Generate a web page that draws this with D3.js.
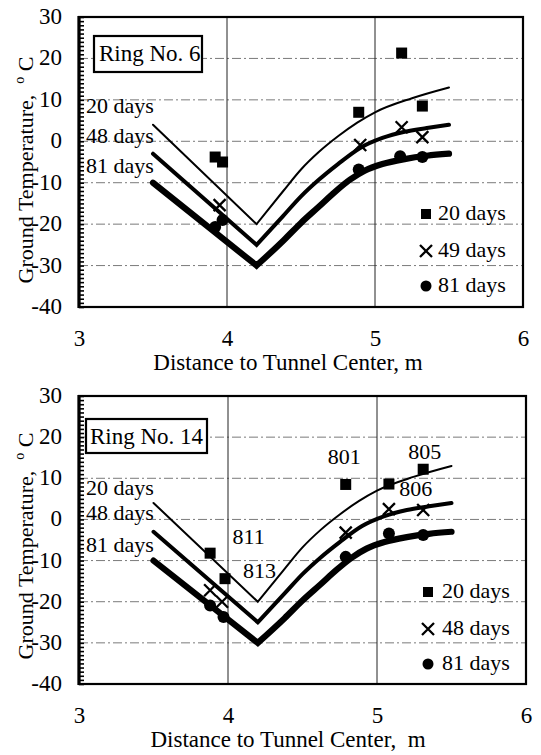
<!DOCTYPE html>
<html><head><meta charset="utf-8">
<script src="https://cdn.jsdelivr.net/npm/d3@7"></script>
<style>
body{margin:0;background:#fff}
svg text{fill:#000}
</style></head>
<body><svg id="c" width="541" height="755" font-family="Liberation Serif, DejaVu Serif, serif"></svg>
<script>
// ---------- data ----------
const xTicks = [3, 4, 5, 6];
const yTicks = [30, 20, 10, 0, -10, -20, -30, -40];
const curveLabels = ["20 days", "48 days", "81 days"];

// model curves: straight left leg, then curved right leg starting at the vertex
const leg20X = [3.5, 4.2], leg20Y = [4, -20];
const leg48X = [3.5, 4.2], leg48Y = [-3, -25];
const leg81X = [3.5, 4.2], leg81Y = [-10, -30];
const rise20X = [4.2, 4.38, 4.5, 4.62, 4.75, 4.88, 5.0, 5.25, 5.5];
const rise20Y = [-20, -12, -6.8, -2.6, 1.2, 4.5, 7.0, 10.4, 13];
const rise48X = [4.2, 4.38, 4.5, 4.62, 4.75, 4.9, 5.05, 5.2, 5.35, 5.5];
const rise48Y = [-25, -18, -13.3, -9.3, -5.5, -1.6, 0.8, 2.3, 3.2, 4];
const rise81X = [4.2, 4.38, 4.5, 4.62, 4.73, 4.83, 4.93, 5.05, 5.2, 5.35, 5.5];
const rise81Y = [-30, -24, -19.7, -15.8, -12.2, -9.3, -7.1, -5.5, -4.3, -3.5, -3];

// Ring No. 6 measurements
const ring6SqX = [3.92, 3.97, 4.89, 5.18, 5.32];
const ring6SqY = [-3.8, -5.0, 7.0, 21.3, 8.5];
const ring6CrX = [3.95, 4.9, 5.18, 5.32];
const ring6CrY = [-15.4, -0.9, 3.4, 1.0];
const ring6DotX = [3.92, 3.97, 4.89, 5.17, 5.32];
const ring6DotY = [-20.7, -19.0, -6.8, -3.6, -3.8];
const ring6Legend = ["20 days", "49 days", "81 days"];

// Ring No. 14 measurements
const ring14SqX = [3.88, 3.98, 4.79, 5.08, 5.31];
const ring14SqY = [-8.2, -14.4, 8.5, 8.6, 12.2];
const ring14CrX = [3.88, 3.96, 4.79, 5.08, 5.31];
const ring14CrY = [-17.2, -20.0, -3.2, 2.5, 2.3];
const ring14DotX = [3.88, 3.97, 4.79, 5.08, 5.31];
const ring14DotY = [-20.9, -23.7, -9.1, -3.4, -3.8];
const ring14Legend = ["20 days", "48 days", "81 days"];
const ring14NoteText = ["811", "813", "801", "805", "806"];
const ring14NoteX = [4.03, 4.10, 4.67, 5.21, 5.15];
const ring14NoteY = [-6.0, -14.3, 13.5, 14.7, 5.7];

// ---------- drawing ----------
const svg = d3.select("#c");
const FS = 22, FS2 = 23;
const FF = "Liberation Serif, DejaVu Serif, serif";

const panels = [
  {left: 79, right: 523, top: 17, bottom: 307, ring: "Ring No. 6",
   box: [94, 36, 108, 36], ringText: [99, 61],
   inl: [96, 126, 156], legX: 426, legTX: 438, legB: [203, 240, 275],
   sq: [ring6SqX, ring6SqY], cr: [ring6CrX, ring6CrY], dot: [ring6DotX, ring6DotY],
   legend: ring6Legend, notes: null,
   ylabY: 170, xTitle: "Distance to Tunnel Center, m", xTitleX: 288},
  {left: 79, right: 526, top: 396, bottom: 684, ring: "Ring No. 14",
   box: [86, 419, 121, 34], ringText: [90, 444],
   inl: [99, 124, 156], legX: 428, legTX: 442, legB: [202, 239, 274],
   sq: [ring14SqX, ring14SqY], cr: [ring14CrX, ring14CrY], dot: [ring14DotX, ring14DotY],
   legend: ring14Legend, notes: [ring14NoteText, ring14NoteX, ring14NoteY],
   ylabY: 546, xTitle: "Distance to Tunnel Center,\u00a0 m", xTitleX: 288}
];

panels.forEach(p => {
  const x = d3.scaleLinear().domain([3, 6]).range([p.left, p.right]);
  const y = d3.scaleLinear().domain([-40, 30]).range([p.bottom, p.top]);
  const g = svg.append("g");

  // horizontal dash-dot grid
  g.selectAll(".hg").data(yTicks.filter(v => v > -40 && v < 30)).join("line")
    .attr("x1", p.left).attr("x2", p.right)
    .attr("y1", d => y(d)).attr("y2", d => y(d))
    .attr("stroke", "#7a7a7a").attr("stroke-width", 1)
    .attr("stroke-dasharray", "9,3,2,3");
  // vertical grid at 4 and 5
  g.selectAll(".vg").data(xTicks.filter(v => v > 3 && v < 6)).join("line")
    .attr("x1", d => x(d)).attr("x2", d => x(d))
    .attr("y1", p.top).attr("y2", p.bottom)
    .attr("stroke", "#222").attr("stroke-width", 1);

  // minor ticks on y axis (inside)
  const minor = g.append("g").attr("transform", `translate(${p.left},0)`)
    .call(d3.axisLeft(y).tickValues(d3.range(-40, 31, 1)).tickSize(-5).tickFormat(""));
  minor.select(".domain").remove();
  minor.selectAll("line").attr("stroke", "#000").attr("stroke-width", 1.6);

  // y tick labels
  const ya = g.append("g").attr("transform", `translate(${p.left},0)`)
    .call(d3.axisLeft(y).tickValues(yTicks).tickSize(0).tickPadding(17).tickFormat(d => String(d)));
  ya.attr("font-family", FF).attr("font-size", FS2);
  ya.select(".domain").remove();
  ya.selectAll("text").attr("fill", "#000").attr("dy", "0.28em");

  // x tick labels
  const xa = g.append("g").attr("transform", `translate(0,${p.bottom})`)
    .call(d3.axisBottom(x).tickValues(xTicks).tickSize(0).tickPadding(23).tickFormat(d => String(d)));
  xa.attr("font-family", FF).attr("font-size", FS2);
  xa.select(".domain").remove();
  xa.selectAll("text").attr("fill", "#000");

  // frame
  g.append("rect").attr("x", p.left).attr("y", p.top)
    .attr("width", p.right - p.left).attr("height", p.bottom - p.top)
    .attr("fill", "none").attr("stroke", "#000").attr("stroke-width", 2.2);
  g.append("line").attr("x1", p.left).attr("x2", p.left).attr("y1", p.top - 1).attr("y2", p.bottom + 1)
    .attr("stroke", "#000").attr("stroke-width", 3.2);

  // model curves
  const lin = d3.line().x(d => x(d[0])).y(d => y(d[1]));
  const mon = d3.line().x(d => x(d[0])).y(d => y(d[1])).curve(d3.curveMonotoneX);
  const curves = [
    [leg20X, leg20Y, rise20X, rise20Y, 2],
    [leg48X, leg48Y, rise48X, rise48Y, 4],
    [leg81X, leg81Y, rise81X, rise81Y, 6.2]
  ];
  curves.forEach(c => {
    const a = lin(d3.zip(c[0], c[1]));
    const b = mon(d3.zip(c[2], c[3])).replace(/^M[^A-Za-z]*/, "");
    g.append("path").attr("d", a + b).attr("fill", "none")
      .attr("stroke", "#000").attr("stroke-width", c[4])
      .attr("stroke-linejoin", "miter").attr("stroke-miterlimit", 10)
      .attr("stroke-linecap", "round");
  });

  // markers
  const sqS = 11, crS = 6, dotR = 6;
  function square(sel, cx, cy, s) {
    sel.append("rect").attr("x", cx - s / 2).attr("y", cy - s / 2).attr("width", s).attr("height", s).attr("fill", "#000");
  }
  function cross(sel, cx, cy, s) {
    sel.append("path").attr("d", `M${cx - s},${cy - s}L${cx + s},${cy + s}M${cx - s},${cy + s}L${cx + s},${cy - s}`)
      .attr("stroke", "#000").attr("stroke-width", 2.3).attr("fill", "none");
  }
  function dot(sel, cx, cy, r) {
    sel.append("circle").attr("cx", cx).attr("cy", cy).attr("r", r).attr("fill", "#000");
  }
  p.sq[0].forEach((v, i) => square(g, x(v), y(p.sq[1][i]), sqS));
  p.cr[0].forEach((v, i) => cross(g, x(v), y(p.cr[1][i]), crS));
  p.dot[0].forEach((v, i) => dot(g, x(v), y(p.dot[1][i]), dotR));

  // ring label box
  g.append("rect").attr("x", p.box[0]).attr("y", p.box[1]).attr("width", p.box[2]).attr("height", p.box[3])
    .attr("fill", "#fff").attr("stroke", "#000").attr("stroke-width", 2.2);
  g.append("text").attr("x", p.ringText[0]).attr("y", p.ringText[1]).attr("font-size", FS2).attr("font-family", FF).text(p.ring);

  // inline curve labels
  curveLabels.forEach((t, i) => {
    g.append("text").attr("x", 86).attr("y", p.top + p.inl[i]).attr("font-size", FS).attr("font-family", FF).text(t);
  });

  // legend
  const lb = p.legB.map(v => p.top + v);
  square(g, p.legX, lb[0] - 6, 10);
  cross(g, p.legX, lb[1] - 6, 6);
  dot(g, p.legX, lb[2] - 6, 5.5);
  p.legend.forEach((t, i) => {
    g.append("text").attr("x", p.legTX).attr("y", lb[i]).attr("font-size", FS).attr("font-family", FF).text(t);
  });

  // point annotations
  if (p.notes) {
    p.notes[0].forEach((t, i) => {
      g.append("text").attr("x", x(p.notes[1][i])).attr("y", y(p.notes[2][i])).attr("font-size", FS).attr("font-family", FF).text(t);
    });
  }

  // axis titles
  g.append("text").attr("x", p.xTitleX).attr("y", p.bottom + 63).attr("text-anchor", "middle")
    .attr("font-size", FS2).attr("font-family", FF).text(p.xTitle);
  const yl = g.append("text").attr("transform", `translate(33,${p.ylabY}) rotate(-90)`)
    .attr("text-anchor", "middle").attr("font-size", FS).attr("font-family", FF);
  yl.append("tspan").text("Ground Temperature,\u00a0 ");
  yl.append("tspan").attr("font-size", 14).attr("dy", -9).text("o");
  yl.append("tspan").attr("dy", 9).text("\u00a0C");
});
</script>
</body></html>
